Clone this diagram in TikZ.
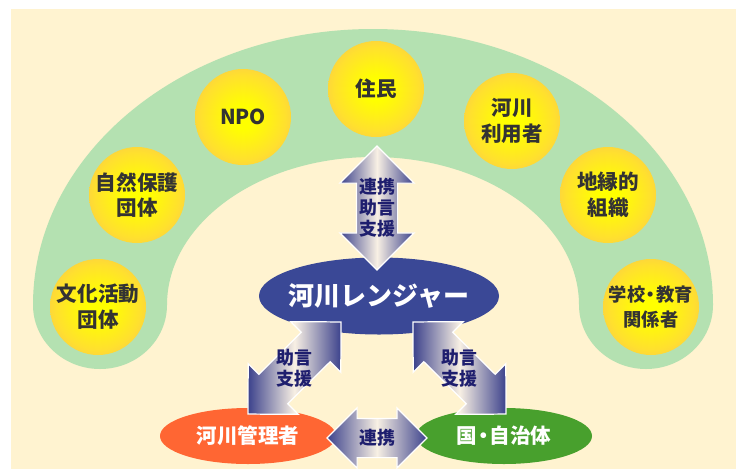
\documentclass[tikz,border=0pt]{standalone}
\usepackage{fontspec}
\setmainfont{Noto Sans CJK JP}
\usetikzlibrary{shapes.geometric,shapes.arrows}
\pgfdeclareradialshading{sunball}{\pgfpoint{0bp}{0bp}}{rgb(0bp)=(1,1,0); rgb(6bp)=(1,1,0); rgb(22bp)=(1,0.88,0.18); rgb(35bp)=(0.97,0.74,0.36); rgb(50bp)=(0.97,0.74,0.36)}
\begin{document}
\begin{tikzpicture}[x=0.2mm,y=0.2mm,
  member/.style={circle, minimum size=19.2mm, inner sep=0pt, align=center, shade, shading=sunball,
    text=colortext, font=\fontsize{11.7}{14.7}\selectfont\bfseries},
  partner/.style={ellipse, minimum width=35.2mm, minimum height=11.2mm, inner sep=0pt,
    text=white, font=\fontsize{11.7}{14}\selectfont\bfseries},
  blockarrow/.style={double arrow, sloped, shade, left color=colorarrow, right color=colorarrow,
    middle color=colorlight, draw=white, line width=0.7pt, inner xsep=0pt, inner ysep=4mm,
    double arrow head extend=3mm},
  arrowtext/.style={align=center, text=colorlabel, font=\fontsize{10.2}{12}\selectfont\bfseries}]
% Define colors
\definecolor{colorbg}{HTML}{FFF3D0}
\definecolor{colorarch}{HTML}{B4E1B1}
\definecolor{colortext}{HTML}{333333}
\definecolor{colorranger}{HTML}{3A4896}
\definecolor{colorkanri}{HTML}{FF6633}
\definecolor{colorjichi}{HTML}{48A02D}
\definecolor{colorarrow}{HTML}{3C428C}
\definecolor{colorlight}{HTML}{F8F0E4}
\definecolor{colorlabel}{HTML}{1E1E6E}
\useasboundingbox (0,0) rectangle (743,472);
\fill[white] (0,0) rectangle (743,472);
\fill[colorbg] (11,3) rectangle (736,463);
  %%%%%%%%%%The green arch
  \fill[colorarch] (33,167) arc[start angle=180, end angle=0, x radius=340, y radius=276]
    arc[start angle=0, end angle=-180, x radius=67, y radius=64]
    arc[start angle=0, end angle=180, x radius=206, y radius=148]
    arc[start angle=0, end angle=-180, x radius=67, y radius=64] -- cycle;
  %Circles
  \node[member] (jumin) at (376,383) {住民};
  \node[member] (npo) at (243,355) {NPO};
  \node[member] (riyosha) at (512,351) {河川\\利用者};
  \node[member] (shizen) at (137,277) {自然保護\\団体};
  \node[member] (chien) at (608,277) {地縁的\\組織};
  \node[member] (bunka) at (98,165) {文化活動\\団体};
  \node[member, font=\fontsize{10.4}{14.7}\selectfont\bfseries] (gakko) at (651,165) {学校\kern-.2em・\kern-.2em教育\\関係者};
  %%%%%%%%%%Ellipses
  \node[partner, fill=colorranger, minimum width=48mm, minimum height=15.4mm,
    font=\fontsize{14.8}{16}\selectfont\bfseries] (ranger) at (379,176) {\makebox[0pt]{河川レンジャー}};
  \node[partner, fill=colorkanri] (kanri) at (248,36) {河川管理者};
  \node[partner, fill=colorjichi] (jichitai) at (504,36) {国\kern-.2em・\kern-.2em自治体};
  %%%%%%%%%%Arrows
  \coordinate (upTip) at (377,326);
  \coordinate (downTip) at (377,202);
  \path (upTip) -- (downTip) node[midway, blockarrow, minimum height=24.8mm, double arrow head extend=3.3mm] (linkTop) {}
    node[midway, arrowtext] (linkTopText) {連携\\助言\\支援};
  \coordinate (leftUp) at (341,150);
  \coordinate (leftDown) at (248,58);
  \path (leftUp) -- (leftDown) node[midway, blockarrow, minimum height=26.2mm] (linkLeft) {}
    node[midway, arrowtext] (linkLeftText) {助言\\支援};
  \coordinate (rightUp) at (413,150);
  \coordinate (rightDown) at (506,58);
  \path (rightUp) -- (rightDown) node[midway, blockarrow, minimum height=26.2mm] (linkRight) {}
    node[midway, arrowtext] (linkRightText) {助言\\支援};
  \coordinate (midLeft) at (327,34);
  \coordinate (midRight) at (427,34);
  \path (midLeft) -- (midRight) node[midway, blockarrow, minimum height=20mm, inner ysep=3.8mm, double arrow head extend=2.1mm] (linkBottom) {}
    node[midway, arrowtext] (linkBottomText) {連携};
\end{tikzpicture}
\end{document}
